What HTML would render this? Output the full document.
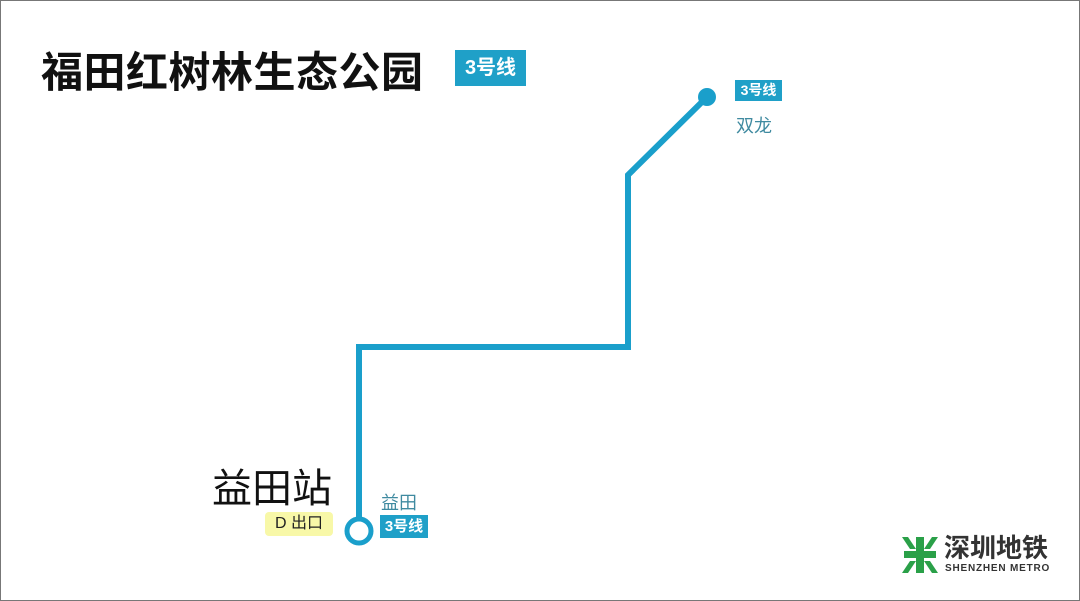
<!DOCTYPE html>
<html><head><meta charset="utf-8"><style>
body{margin:0;width:1080px;height:601px;background:#fff;overflow:hidden;position:relative;font-family:"Liberation Sans","Noto Sans CJK SC",sans-serif}
.frame{position:absolute;left:0;top:0;width:1078px;height:599px;border:1px solid #777}
.t{position:absolute;white-space:nowrap}
.badge{position:absolute;background:#1fa0c8;color:#fff;font-weight:bold;text-align:center}
</style></head><body>
<div class="frame"></div>
<div class="t" style="left:41px;top:39px;font-size:42px;font-weight:bold;color:#111;letter-spacing:0.5px">福田红树林生态公园</div>
<div class="badge" style="left:455px;top:50px;width:71px;height:36px;line-height:36px;font-size:20px">3号线</div>
<svg style="position:absolute;left:0;top:0" width="1080" height="601">
<polyline points="359,520 359,347 628,347 628,175 707,97" fill="none" stroke="#1a9fcb" stroke-width="6" stroke-linejoin="miter"/>
<circle cx="707" cy="97" r="9" fill="#1a9fcb"/>
<circle cx="359" cy="531" r="12" fill="#fff" stroke="#1a9fcb" stroke-width="5"/>
</svg>
<div class="badge" style="left:735px;top:80px;width:47px;height:21px;line-height:21px;font-size:14px">3号线</div>
<div class="t" style="left:736px;top:112px;font-size:18px;color:#3f8aa0">双龙</div>
<div class="t" style="left:212px;top:456px;font-size:40px;color:#111">益田站</div>
<div class="t" style="left:265px;top:512px;width:68px;height:24px;background:#f8f8a8;border-radius:4px;font-size:16px;line-height:24px;text-align:center;color:#222">D 出口</div>
<div class="t" style="left:381px;top:489px;font-size:18px;color:#3f8aa0">益田</div>
<div class="badge" style="left:380px;top:515px;width:48px;height:23px;line-height:23px;font-size:15px">3号线</div>
<svg style="position:absolute;left:900px;top:535px" width="40" height="40" viewBox="0 0 40 40">
<g fill="#2aa048">
<rect x="16" y="2" width="8" height="36"/>
<path d="M2 2h6l8 12h-6z"/><path d="M38 2h-6l-8 12h6z"/>
<path d="M2 38h6l8-12h-6z"/><path d="M38 38h-6l-8-12h6z"/>
<rect x="4" y="16" width="32" height="7"/>
</g></svg>
<div class="t" style="left:944px;top:534px;font-size:26px;font-weight:bold;color:#333;line-height:28px">深圳地铁</div>
<div class="t" style="left:945px;top:563px;font-size:10px;font-weight:bold;color:#333;letter-spacing:0.8px">SHENZHEN METRO</div>
</body></html>
